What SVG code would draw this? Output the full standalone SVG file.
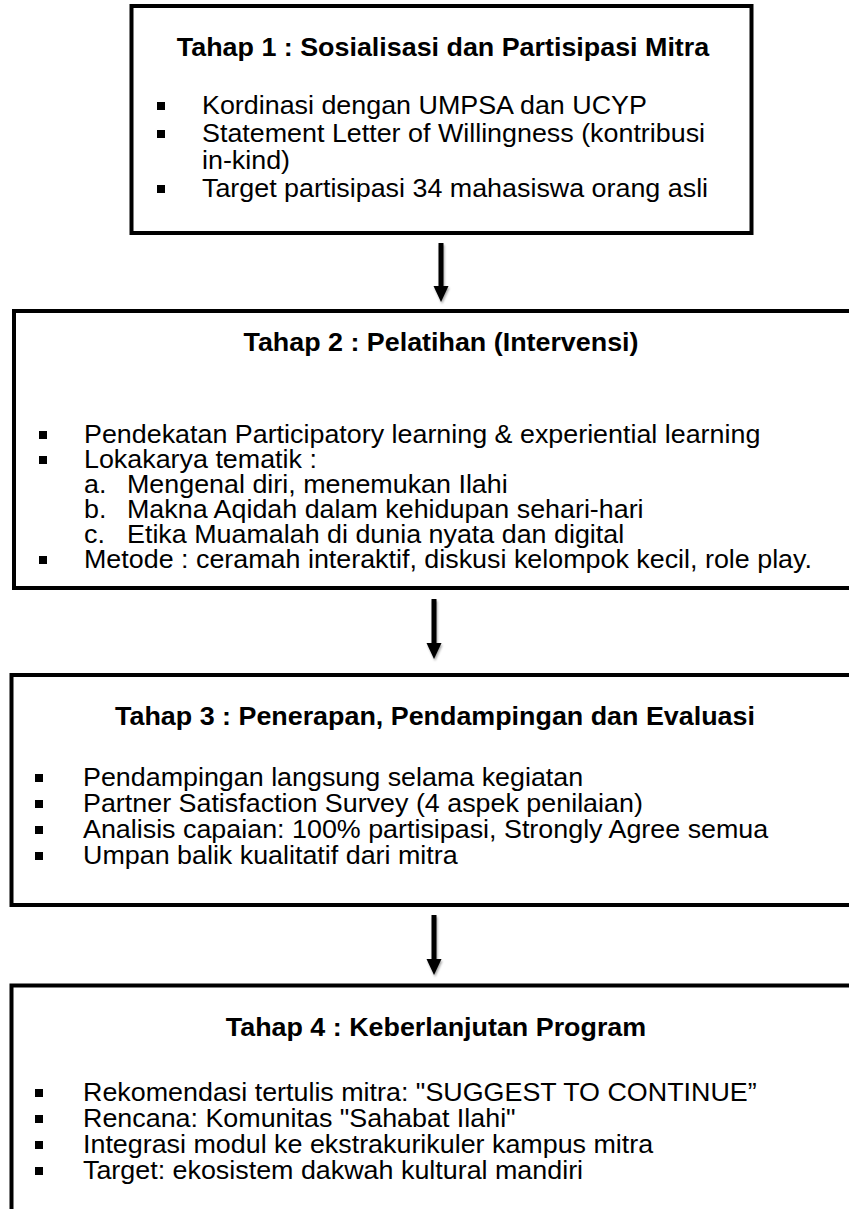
<svg xmlns="http://www.w3.org/2000/svg" width="849" height="1209" viewBox="0 0 849 1209">
<defs>
<style>
.box{fill:#fff;stroke:#000;stroke-width:4}
.t{font-family:"Liberation Sans",Arial,sans-serif;font-size:25px;fill:#000}
.h{font-weight:bold;text-anchor:middle}
.b{fill:#000}
.arrow{stroke:#000;stroke-width:5;fill:none}
</style>
<filter id="sh" x="-50%" y="-20%" width="200%" height="140%">
<feDropShadow dx="1" dy="2" stdDeviation="1.2" flood-color="#000" flood-opacity="0.35"/>
</filter>
</defs>
<rect width="849" height="1209" fill="#fff"/>

<g id="node1">
<rect class="box" x="131.5" y="6" width="620" height="227"/>
<text class="t h" transform="matrix(1.075 0 0 1 443 56)">Tahap 1 : Sosialisasi dan Partisipasi Mitra</text>
<rect class="b" x="157" y="102" width="8" height="8"/>
<text class="t" transform="matrix(1.075 0 0 1 202 114)">Kordinasi dengan UMPSA dan UCYP</text>
<rect class="b" x="157" y="130" width="8" height="8"/>
<text class="t" transform="matrix(1.075 0 0 1 202 142)">Statement Letter of Willingness (kontribusi</text>
<text class="t" transform="matrix(1.075 0 0 1 202 169)">in-kind)</text>
<rect class="b" x="157" y="185" width="8" height="8"/>
<text class="t" transform="matrix(1.075 0 0 1 202 197)">Target partisipasi 34 mahasiswa orang asli</text>
</g>

<g id="node2">
<rect class="box" x="14" y="311" width="860" height="277"/>
<text class="t h" transform="matrix(1.075 0 0 1 441 351)">Tahap 2 : Pelatihan (Intervensi)</text>
<rect class="b" x="39" y="431" width="8" height="8"/>
<text class="t" transform="matrix(1.075 0 0 1 84 443)">Pendekatan Participatory learning &amp; experiential learning</text>
<rect class="b" x="39" y="456" width="8" height="8"/>
<text class="t" transform="matrix(1.075 0 0 1 84 468)">Lokakarya tematik :</text>
<text class="t" transform="matrix(1.075 0 0 1 84 493)">a.</text>
<text class="t" transform="matrix(1.075 0 0 1 127 493)">Mengenal diri, menemukan Ilahi</text>
<text class="t" transform="matrix(1.075 0 0 1 84 518)">b.</text>
<text class="t" transform="matrix(1.075 0 0 1 127 518)">Makna Aqidah dalam kehidupan sehari-hari</text>
<text class="t" transform="matrix(1.075 0 0 1 84 543)">c.</text>
<text class="t" transform="matrix(1.075 0 0 1 127 543)">Etika Muamalah di dunia nyata dan digital</text>
<rect class="b" x="39" y="556" width="8" height="8"/>
<text class="t" transform="matrix(1.075 0 0 1 84 568)">Metode : ceramah interaktif, diskusi kelompok kecil, role play.</text>
</g>

<g id="node3">
<rect class="box" x="11.5" y="675" width="860" height="230"/>
<text class="t h" transform="matrix(1.075 0 0 1 435 725)">Tahap 3 : Penerapan, Pendampingan dan Evaluasi</text>
<rect class="b" x="35" y="774" width="8" height="8"/>
<text class="t" transform="matrix(1.075 0 0 1 83 786)">Pendampingan langsung selama kegiatan</text>
<rect class="b" x="35" y="800" width="8" height="8"/>
<text class="t" transform="matrix(1.075 0 0 1 83 812)">Partner Satisfaction Survey (4 aspek penilaian)</text>
<rect class="b" x="35" y="826" width="8" height="8"/>
<text class="t" transform="matrix(1.075 0 0 1 83 838)">Analisis capaian: 100% partisipasi, Strongly Agree semua</text>
<rect class="b" x="35" y="852" width="8" height="8"/>
<text class="t" transform="matrix(1.075 0 0 1 83 864)">Umpan balik kualitatif dari mitra</text>
</g>

<g id="node4">
<rect class="box" x="11.5" y="985.5" width="860" height="260"/>
<text class="t h" transform="matrix(1.075 0 0 1 436 1036)">Tahap 4 : Keberlanjutan Program</text>
<rect class="b" x="35" y="1089" width="8" height="8"/>
<text class="t" transform="matrix(1.075 0 0 1 83 1101)">Rekomendasi tertulis mitra: "SUGGEST TO CONTINUE”</text>
<rect class="b" x="35" y="1115" width="8" height="8"/>
<text class="t" transform="matrix(1.075 0 0 1 83 1127)">Rencana: Komunitas "Sahabat Ilahi"</text>
<rect class="b" x="35" y="1141" width="8" height="8"/>
<text class="t" transform="matrix(1.075 0 0 1 83 1153)">Integrasi modul ke ekstrakurikuler kampus mitra</text>
<rect class="b" x="35" y="1167" width="8" height="8"/>
<text class="t" transform="matrix(1.075 0 0 1 83 1179)">Target: ekosistem dakwah kultural mandiri</text>
</g>

<g id="connectors" filter="url(#sh)">
<line class="arrow" x1="441" y1="243" x2="441" y2="288"/>
<polygon points="433.5,286 448.5,286 441,302"/>
<line class="arrow" x1="434" y1="599" x2="434" y2="645"/>
<polygon points="426.5,643 441.5,643 434,659"/>
<line class="arrow" x1="434" y1="915" x2="434" y2="961"/>
<polygon points="426.5,959 441.5,959 434,975"/>
</g>
</svg>
